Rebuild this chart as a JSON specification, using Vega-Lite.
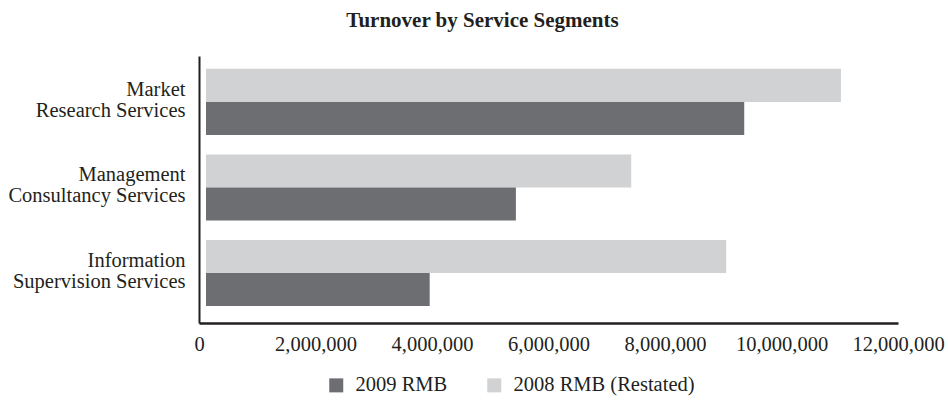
{
  "$schema": "https://vega.github.io/schema/vega-lite/v6.json",
  "autosize": "none",
  "width": 699,
  "height": 267,
  "padding": {"left": 199, "top": 56, "right": 50, "bottom": 78},
  "background": "white",
  "title": {
    "text": "Turnover by Service Segments",
    "font": "Liberation Serif",
    "fontSize": 21,
    "fontWeight": "bold",
    "color": "#231f20",
    "frame": "group",
    "anchor": "middle",
    "dx": -66,
    "offset": 25
  },
  "data": {
    "values": [
      {"segment": "Market|Research Services", "series": "2008 RMB (Restated)", "value": 10900000},
      {"segment": "Market|Research Services", "series": "2009 RMB", "value": 9240000},
      {"segment": "Management|Consultancy Services", "series": "2008 RMB (Restated)", "value": 7300000},
      {"segment": "Management|Consultancy Services", "series": "2009 RMB", "value": 5320000},
      {"segment": "Information|Supervision Services", "series": "2008 RMB (Restated)", "value": 8930000},
      {"segment": "Information|Supervision Services", "series": "2009 RMB", "value": 3840000}
    ]
  },
  "mark": {"type": "bar", "xOffset": 7},
  "encoding": {
    "y": {
      "field": "segment",
      "type": "nominal",
      "sort": null,
      "scale": {"paddingInner": 0.228, "paddingOuter": 0.175, "align": 0.43},
      "axis": {
        "title": null,
        "labelExpr": "split(datum.value, '|')",
        "labelFont": "Liberation Serif",
        "labelFontSize": 20.5,
        "labelColor": "#231f20",
        "labelLineHeight": 21,
        "labelPadding": 14,
        "labelOffset": -12,
        "labelLimit": 0,
        "ticks": false,
        "domainColor": "#231f20",
        "domainWidth": 2,
        "grid": false
      }
    },
    "yOffset": {
      "field": "series",
      "type": "nominal",
      "sort": ["2008 RMB (Restated)", "2009 RMB"],
      "scale": {"paddingInner": 0, "paddingOuter": 0}
    },
    "x": {
      "field": "value",
      "type": "quantitative",
      "scale": {"domain": [0, 12000000], "nice": false},
      "axis": {
        "title": null,
        "values": [0, 2000000, 4000000, 6000000, 8000000, 10000000, 12000000],
        "format": ",d",
        "labelFont": "Liberation Serif",
        "labelFontSize": 20.5,
        "labelColor": "#231f20",
        "labelPadding": 11,
        "labelFlush": false,
        "labelOverlap": false,
        "ticks": false,
        "grid": false,
        "domainColor": "#231f20",
        "domainWidth": 2.5
      }
    },
    "color": {
      "field": "series",
      "type": "nominal",
      "scale": {"domain": ["2009 RMB", "2008 RMB (Restated)"], "range": ["#6d6e71", "#d1d2d4"]},
      "legend": {
        "title": null,
        "orient": "none",
        "direction": "horizontal",
        "legendX": 127,
        "legendY": 319,
        "symbolType": "square",
        "symbolSize": 196,
        "symbolStrokeWidth": 0,
        "symbolOpacity": 1,
        "labelFont": "Liberation Serif",
        "labelFontSize": 20.5,
        "labelColor": "#231f20",
        "labelOffset": 9,
        "labelLimit": 0,
        "columnPadding": 36
      }
    }
  },
  "config": {"view": {"stroke": null}}
}
